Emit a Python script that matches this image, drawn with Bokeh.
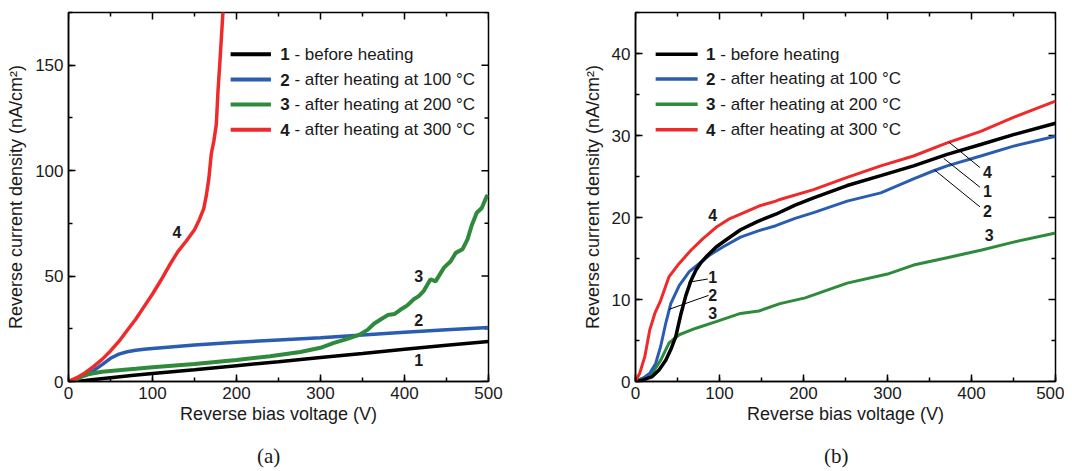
from bokeh.plotting import figure
from bokeh.layouts import row, column
from bokeh.models import SingleIntervalTicker, Range1d, Div
from bokeh.embed import file_html
from bokeh.resources import INLINE
from bokeh.core.properties import value

# ---------------- data: panel (a) ----------------
a_black_x = [10, 30, 50, 75, 100, 150, 200, 250, 300, 350, 400, 450, 500]
a_black_y = [0, 1.0, 1.8, 2.8, 3.8, 5.6, 7.5, 9.4, 11.4, 13.3, 15.3, 17.2, 19.0]

a_blue_x = [0, 10, 20, 30, 40, 50, 60, 70, 80, 90, 100, 125, 150, 200, 250, 300, 350, 400, 450, 500]
a_blue_y = [0, 1.5, 3.2, 5.2, 8.0, 11.0, 13.0, 14.1, 14.8, 15.3, 15.7, 16.5, 17.3, 18.6, 19.7, 20.8, 22.1, 23.3, 24.5, 25.6]

a_green_x = [5, 15, 25, 40, 60, 80, 100, 150, 200, 240, 276, 300, 316, 330, 346, 356, 364, 372, 380,
             388, 395, 403, 411, 417, 423, 431, 437, 447, 455, 461, 469, 475, 480, 486, 492, 497, 499]
a_green_y = [0, 2.2, 3.6, 4.6, 5.3, 6.0, 6.8, 8.3, 10.2, 12.0, 14.0, 16.0, 18.3, 20.0, 22.1, 24.5, 27.5, 29.5, 31.5,
             32.0, 34.0, 36.0, 39.0, 40.5, 43.0, 48.5, 47.5, 54.0, 57.0, 61.0, 62.7, 67.4, 74.0, 80.0, 82.3, 87.0, 88.5]

a_red_x = [0, 10, 20, 30, 40, 50, 60, 70, 80, 90, 100, 110, 120, 130, 140, 150, 156, 161, 164, 167, 170,
           173, 176, 178, 180, 182, 184]
a_red_y = [0, 1.8, 4.2, 7.2, 10.5, 14.5, 19.0, 24.3, 29.5, 35.5, 41.5, 48.0, 55.0, 61.5, 66.5, 72.0, 77.0,
           82.0, 88.0, 96.0, 108.0, 114.0, 122.0, 138.0, 150.0, 163.0, 176.0]

# ---------------- data: panel (b) ----------------
b_black_x = [0, 9, 20, 28, 36, 42, 48, 54, 60, 66, 72, 78, 85, 96, 111, 125, 145, 167, 190, 212, 252, 292, 331, 371, 411, 450, 500]
b_black_y = [0, 0.2, 0.6, 1.4, 2.6, 3.9, 5.5, 8.2, 10.5, 12.3, 13.6, 14.5, 15.3, 16.4, 17.5, 18.5, 19.5, 20.4, 21.5,
             22.4, 23.9, 25.1, 26.3, 27.7, 28.9, 30.1, 31.5]

b_blue_x = [0, 9, 17, 24, 30, 36, 42, 52, 64, 76, 88, 104, 125, 147, 167, 190, 212, 252, 292, 331, 355, 371, 411, 450, 500]
b_blue_y = [0, 0.4, 1.0, 2.2, 4.3, 7.1, 9.5, 11.7, 13.4, 14.4, 15.4, 16.4, 17.6, 18.4, 19.0, 19.9, 20.6, 22.0, 23.0,
            24.7, 25.7, 26.3, 27.5, 28.7, 29.9]

b_green_x = [0, 9, 20, 30, 40, 52, 72, 96, 125, 147, 172, 202, 252, 300, 331, 371, 411, 450, 500]
b_green_y = [0, 0.4, 1.0, 2.6, 4.7, 5.7, 6.5, 7.3, 8.3, 8.6, 9.5, 10.2, 12.0, 13.1, 14.2, 15.1, 16.0, 17.0, 18.1]

b_red_x = [0, 5, 11, 17, 23, 30, 40, 52, 66, 80, 96, 111, 125, 147, 167, 172, 212, 252, 292, 331, 371, 411, 450, 500]
b_red_y = [0, 1.0, 3.0, 6.3, 8.3, 9.9, 12.8, 14.4, 16.0, 17.4, 18.8, 19.8, 20.4, 21.4, 22.0, 22.2, 23.4, 24.9,
           26.3, 27.5, 29.1, 30.5, 32.2, 34.2]

legend_nums = ["1", "2", "3", "4"]
legend_texts = ["\u00a0- before heating", "\u00a0- after heating at 100 \u00b0C",
                "\u00a0- after heating at 200 \u00b0C", "\u00a0- after heating at 300 \u00b0C"]

x_label = "Reverse bias voltage (V)"
y_label = "Reverse current density (nA/cm\u00b2)"
captions = ["(a)", "(b)"]

# x ticks (both panels), y ticks per panel
x_major = [0, 100, 200, 300, 400, 500]
x_minor = [50, 150, 250, 350, 450]
a_y_major = [0, 50, 100, 150]
a_y_minor = [25, 75, 125, 175]
b_y_major = [0, 10, 20, 30, 40]
b_y_minor = [5, 15, 25, 35, 45]

# curve number labels (annotations)
a_lab_txt = ["4", "3", "2", "1"]
a_lab_x = [129, 417, 417, 417]
a_lab_y = [71, 50, 29, 10]

b_lab_txt = ["4", "1", "2", "3", "4", "1", "2", "3"]
b_lab_x = [92, 92, 92, 92, 419, 419, 419, 421]
b_lab_y = [20.3, 12.8, 10.5, 8.3, 25.6, 23.2, 20.8, 17.9]

b_lead_x0 = [86, 87, 410, 410, 410]
b_lead_y0 = [12.5, 10.5, 26.1, 23.7, 21.3]
b_lead_x1 = [63, 40, 373, 367, 356]
b_lead_y1 = [12.1, 8.8, 29.2, 27.2, 25.8]

COLORS = ["#000000", "#2a5db0", "#2f8a3b", "#ee2a2a"]
FONT = "Liberation Sans"
TXT = "#1a1a1a"
HEIGHT = 436
WIDTH = 532


def make_fig(ymax, yint, borders, y_major, y_minor):
    l, r, t, b = borders
    p = figure(width=WIDTH, height=HEIGHT, x_range=Range1d(0, 500), y_range=Range1d(0, ymax),
               output_backend="svg", toolbar_location=None,
               min_border_left=l, min_border_right=r, min_border_top=t, min_border_bottom=b,
               x_axis_label=x_label, y_axis_label=y_label)
    p.xgrid.visible = False
    p.ygrid.visible = False
    p.outline_line_color = "black"
    p.outline_line_width = 1.5
    p.background_fill_color = "white"
    p.border_fill_color = "white"

    for ax, tk in ((p.xaxis[0], SingleIntervalTicker(interval=100, num_minor_ticks=2)),
                   (p.yaxis[0], SingleIntervalTicker(interval=yint, num_minor_ticks=2))):
        ax.ticker = tk
        ax.axis_line_color = "black"
        ax.axis_line_width = 1.5
        ax.major_tick_in = 7
        ax.major_tick_out = 0
        ax.minor_tick_in = 4
        ax.minor_tick_out = 0
        ax.major_tick_line_width = 1.5
        ax.minor_tick_line_width = 1.5
        ax.major_tick_line_color = "black"
        ax.minor_tick_line_color = "black"
        ax.major_label_text_font = FONT
        ax.major_label_text_font_size = "17px"
        ax.major_label_text_color = TXT
        ax.major_label_standoff = 5
        ax.axis_label_text_font = FONT
        ax.axis_label_text_font_size = "18px"
        ax.axis_label_text_font_style = "normal"
        ax.axis_label_text_color = TXT
    p.xaxis[0].axis_label_standoff = 2
    p.yaxis[0].axis_label_standoff = 6

    # mirrored ticks on the top and right edges of the frame
    frame_w = WIDTH - l - r
    frame_h = HEIGHT - t - b
    xu = 500.0 / frame_w          # data units per pixel, x
    yu = ymax / float(frame_h)    # data units per pixel, y
    for ticks, ln in ((x_major, 7), (x_minor, 4)):
        p.segment(ticks, [ymax] * len(ticks), ticks, [ymax - ln * yu] * len(ticks),
                  line_color="black", line_width=1.5)
    for ticks, ln in ((y_major, 7), (y_minor, 4)):
        p.segment([500] * len(ticks), ticks, [500 - ln * xu] * len(ticks), ticks,
                  line_color="black", line_width=1.5)
    return p


def add_legend(p, lx0, lx1, tx, ys, lw):
    for i in range(4):
        p.line([lx0, lx1], [ys[i], ys[i]], line_color=COLORS[i], line_width=lw + 0.5)
        p.text([tx], [ys[i]], text=[legend_nums[i]], text_font=value(FONT), text_font_size="17px",
               text_font_style="bold", text_baseline="middle", text_align="left", text_color=TXT)
        p.text([tx], [ys[i]], text=[legend_texts[i]], text_font=value(FONT), text_font_size="17px",
               text_baseline="middle", text_align="left", text_color=TXT, x_offset=9.5)


def make_caption(text, left_pad):
    return Div(text=text, width=WIDTH, height=30,
               styles={"font-family": "'Liberation Serif', serif", "font-size": "21px",
                       "color": TXT, "padding-top": "3px", "padding-left": "%dpx" % left_pad,
                       "line-height": "24px", "box-sizing": "border-box"})


# ---------- panel (a) ----------
pa = make_fig(175, 50, (68, 44, 11, 55), a_y_major, a_y_minor)
lw_a = 3.5
pa.line(a_black_x, a_black_y, line_color=COLORS[0], line_width=lw_a)
pa.line(a_blue_x, a_blue_y, line_color=COLORS[1], line_width=lw_a)
pa.line(a_green_x, a_green_y, line_color=COLORS[2], line_width=lw_a + 0.5)
pa.line(a_red_x, a_red_y, line_color=COLORS[3], line_width=lw_a)
pa.text(a_lab_x, a_lab_y, text=a_lab_txt, text_font=value(FONT), text_font_size="16px",
        text_font_style="bold", text_align="center", text_baseline="middle", text_color=TXT)
add_legend(pa, 193, 241, 252, [155.2, 143.2, 131.4, 119.4], lw_a)

# ---------- panel (b) ----------
pb = make_fig(45, 10, (103, 9, 12, 55), b_y_major, b_y_minor)
lw_b = 3.0
pb.line(b_green_x, b_green_y, line_color=COLORS[2], line_width=lw_b)
pb.line(b_blue_x, b_blue_y, line_color=COLORS[1], line_width=lw_b)
pb.line(b_black_x, b_black_y, line_color=COLORS[0], line_width=lw_b + 0.5)
pb.line(b_red_x, b_red_y, line_color=COLORS[3], line_width=lw_b)
pb.segment(b_lead_x0, b_lead_y0, b_lead_x1, b_lead_y1, line_color="black", line_width=1)
pb.text(b_lab_x, b_lab_y, text=b_lab_txt, text_font=value(FONT), text_font_size="16px",
        text_font_style="bold", text_align="center", text_baseline="middle", text_color=TXT)
add_legend(pb, 24, 74, 84, [39.9, 36.9, 33.8, 30.7], lw_b)

cap_a = make_caption(captions[0], 252)
cap_b = make_caption(captions[1], 277)

layout = column(row(pa, pb), row(cap_a, cap_b))
open("out.html", "w").write(file_html(layout, INLINE))
